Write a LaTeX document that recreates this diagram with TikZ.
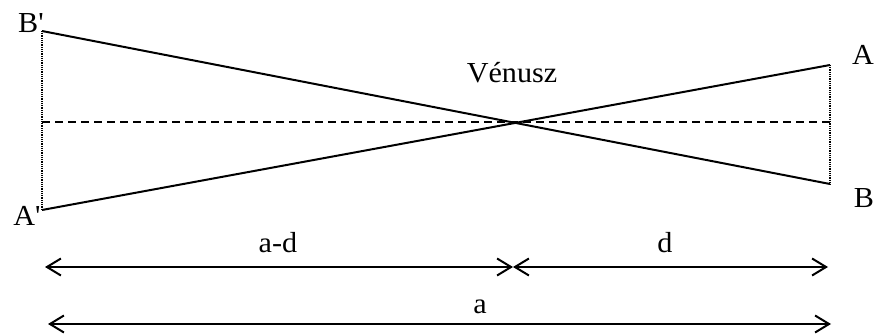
\documentclass[tikz,border=0pt]{standalone}
\usepackage{fontspec}
\setmainfont{Liberation Serif}
\newfontfamily\lblfont[FakeStretch=1.04]{Liberation Serif}
\usetikzlibrary{arrows.meta}
\tikzset{
  lbl/.style={inner sep=0pt, anchor=base, font=\lblfont\fontsize{29}{31}\selectfont},
  ray/.style={line width=2pt},
  axis/.style={line width=1.4pt, dash pattern=on 8pt off 5pt},
  dotline/.style={line width=1.7pt, dash pattern=on 0.9pt off 0.9pt},
  dim/.style={line width=2pt, {Straight Barb[length=14pt,width=17pt]}-{Straight Barb[length=14pt,width=17pt]}}
}
\begin{document}
\begin{tikzpicture}[x=1pt,y=-1pt]
\useasboundingbox (0,0) rectangle (875,334);
% points
\coordinate (Bp) at (42,31);
\coordinate (Ap) at (42,210);
\coordinate (A) at (830,65);
\coordinate (B) at (830,184);
\coordinate (L) at (42,122);
\coordinate (R) at (830,122);
\coordinate (d1) at (45,267);
\coordinate (d2) at (513,267);
\coordinate (d3) at (828,267);
\coordinate (e1) at (48,324);
\coordinate (e2) at (831,324);
% lines
\draw[ray] (Bp) -- (B);
\draw[ray] (Ap) -- (A);
\draw[axis] (L) -- (R);
\draw[dotline] (Bp) -- (Ap);
\draw[dotline] (A) -- (B);
% dimension arrows
\draw[dim] (d1) -- (d2);
\draw[dim] (d2) -- (d3);
\draw[dim] (e1) -- (e2);
% labels
\node[lbl] (lBp) at (31,33) {B'};
\node[lbl] (lAp) at (27,225) {A'};
\node[lbl] (lA) at (863,65) {A};
\node[lbl] (lB) at (864,207) {B};
\node[lbl] (lV) at (512,83) {Vénusz};
\node[lbl] (lad) at (278,252) {a-d};
\node[lbl] (ld) at (665,252) {d};
\node[lbl] (la) at (480,313) {a};
\end{tikzpicture}
\end{document}
